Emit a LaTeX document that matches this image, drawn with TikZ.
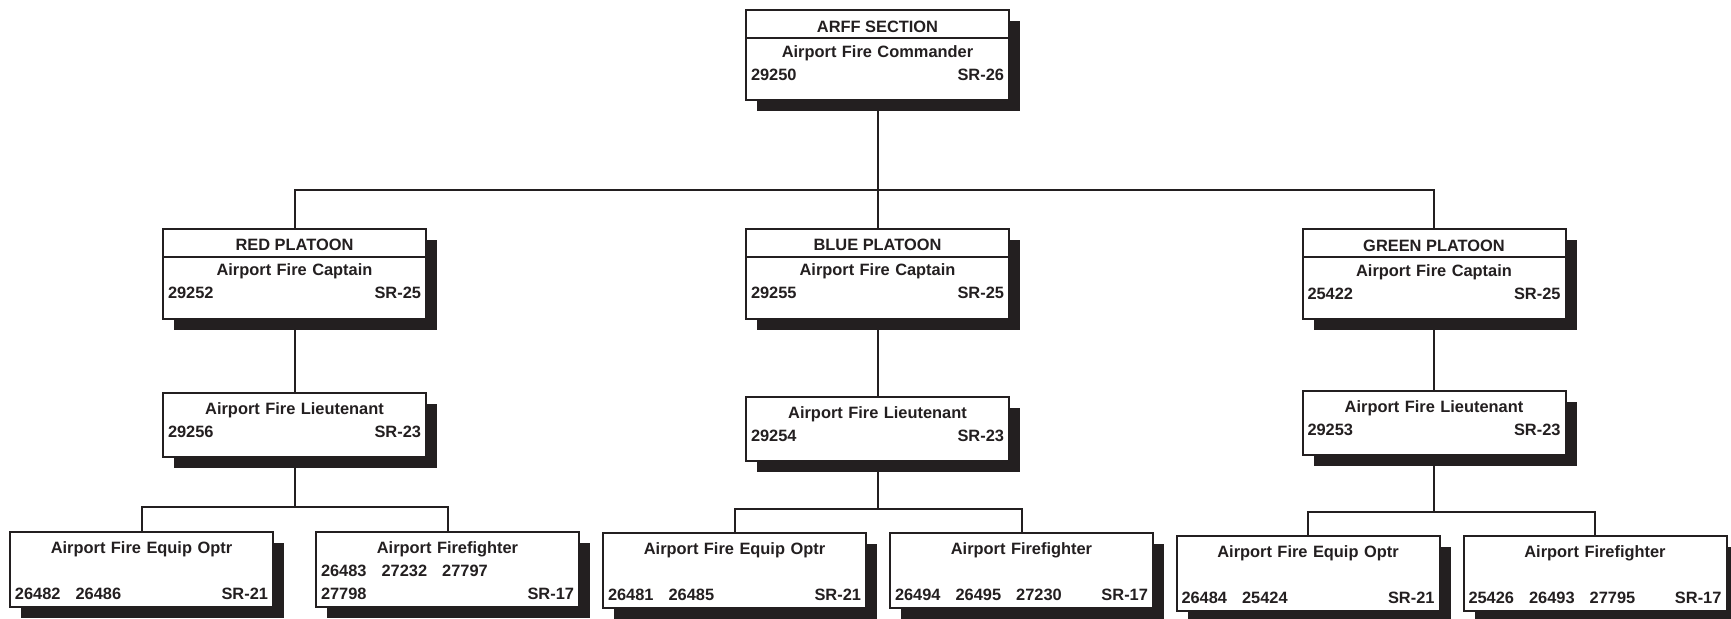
\documentclass[tikz,border=0pt]{standalone}
\usepackage{fontspec}
\setmainfont{Liberation Sans}
\usepackage{xcolor}
\usetikzlibrary{positioning,shadows}
\definecolor{ink}{HTML}{231F20}
\newcommand{\posrow}[2]{\leavevmode\hbox to\linewidth{#1\hfill #2}}

\begin{document}
\begin{tikzpicture}[
    box/.style={rectangle, draw=ink, fill=white, line width=1pt, outer sep=0pt, minimum width=131.5pt, drop shadow={shadow xshift=5.5pt, shadow yshift=-5.5pt, fill=ink, opacity=1}},
    head/.style={box, minimum height=14pt, inner ysep=0pt, text height=8.2pt, text depth=0pt},
    post/.style={box, text width=126.5pt, inner xsep=2.5pt, inner ysep=0pt, align=center, text height=9.5pt, text depth=21.5pt},
    chief/.style={post, text height=10.5pt, text depth=21.5pt},
    crew/.style={post, text height=10.5pt, text depth=27pt},
    link/.style={draw=ink, line width=1pt},
    every node/.style={font=\bfseries\fontsize{8.2}{11.5}\selectfont, text=ink}
]
\useasboundingbox (0,0) rectangle (865.5pt,-309pt);

% Section
\node[head, anchor=north] (arff) at (438.75pt,-5pt) {ARFF SECTION};
\node[post, below=0pt of arff] (arffcmd) {Airport Fire Commander\\\posrow{29250}{SR-26}};

% Platoons
\node[head, below=64.25pt of arffcmd, xshift=-291.5pt] (red) {RED PLATOON};
\node[post, below=0pt of red] (redcpt) {Airport Fire Captain\\\posrow{29252}{SR-25}};
\node[head, below=64.25pt of arffcmd] (blue) {BLUE PLATOON};
\node[post, below=0pt of blue] (bluecpt) {Airport Fire Captain\\\posrow{29255}{SR-25}};
\node[head, below=64.5pt of arffcmd, xshift=278.25pt] (green) {GREEN PLATOON};
\node[post, below=0pt of green] (greencpt) {Airport Fire Captain\\\posrow{25422}{SR-25}};

% Lieutenants
\node[chief, below=37.25pt of redcpt] (redlt) {Airport Fire Lieutenant\\\posrow{29256}{SR-23}};
\node[chief, below=39.25pt of bluecpt] (bluelt) {Airport Fire Lieutenant\\\posrow{29254}{SR-23}};
\node[chief, below=36pt of greencpt] (greenlt) {Airport Fire Lieutenant\\\posrow{29253}{SR-23}};

% Crews
\node[crew, below=37.5pt of redlt, xshift=-76.5pt] (redeqp) {Airport Fire Equip Optr\\[11.5pt]\posrow{26482\hspace{7.5pt}26486}{SR-21}};
\node[crew, below=37.5pt of redlt, xshift=76.5pt] (redff) {Airport Firefighter\\\posrow{26483\hspace{7.5pt}27232\hspace{7.5pt}27797}{}\\\posrow{27798}{SR-17}};
\node[crew, below=36pt of bluelt, xshift=-71.5pt] (blueeqp) {Airport Fire Equip Optr\\[11.5pt]\posrow{26481\hspace{7.5pt}26485}{SR-21}};
\node[crew, below=36pt of bluelt, xshift=72pt] (blueff) {Airport Firefighter\\[11.5pt]\posrow{26494\hspace{7.5pt}26495\hspace{7.5pt}27230}{SR-17}};
\node[crew, below=40.5pt of greenlt, xshift=-63pt] (greeneqp) {Airport Fire Equip Optr\\[11.5pt]\posrow{26484\hspace{7.5pt}25424}{SR-21}};
\node[crew, below=40.5pt of greenlt, xshift=80.5pt] (greenff) {Airport Firefighter\\[11.5pt]\posrow{25426\hspace{7.5pt}26493\hspace{7.5pt}27795}{SR-17}};

% Connectors
\coordinate[above=19.25pt of red] (bus);
\draw[link] (arffcmd) -- (blue);
\draw[link] (red) -- (bus) -| (green);
\draw[link] (redcpt) -- (redlt);
\draw[link] (bluecpt) -- (bluelt);
\draw[link] (greencpt) -- (greenlt);

\coordinate[above=12.5pt of redeqp] (redfork);
\coordinate[above=12pt of blueeqp] (bluefork);
\coordinate[above=12pt of greeneqp] (greenfork);
\draw[link] (redeqp) -- (redfork) -| (redff);
\draw[link] (redlt) -- (redlt |- redfork);
\draw[link] (blueeqp) -- (bluefork) -| (blueff);
\draw[link] (bluelt) -- (bluelt |- bluefork);
\draw[link] (greeneqp) -- (greenfork) -| (greenff);
\draw[link] (greenlt) -- (greenlt |- greenfork);
\end{tikzpicture}
\end{document}
